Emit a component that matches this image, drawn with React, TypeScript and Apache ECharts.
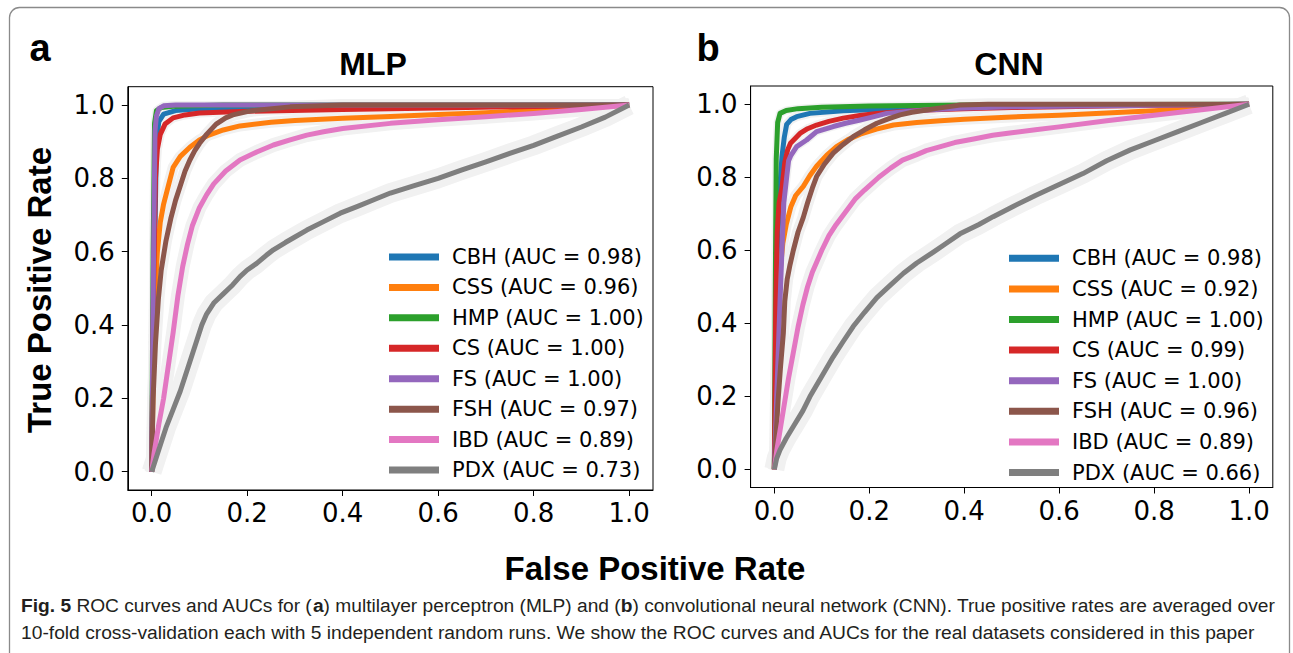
import React, { useEffect, useRef } from 'react';
import * as echarts from 'echarts';

// ---------- data ----------
const curveNames = ['CBH', 'CSS', 'HMP', 'CS', 'FS', 'FSH', 'IBD', 'PDX'];
const mlpAUC = ['0.98', '0.96', '1.00', '1.00', '1.00', '0.97', '0.89', '0.73'];
const cnnAUC = ['0.98', '0.92', '1.00', '0.99', '1.00', '0.96', '0.89', '0.66'];
const tickValues = [0, 0.2, 0.4, 0.6, 0.8, 1.0];

// MLP (panel a): [FPR, TPR]
const mlpCBH = [[0, 0], [0.005, 0.5], [0.01, 0.9], [0.015, 0.955], [0.025, 0.975], [0.05, 0.985], [0.1, 0.99], [0.3, 0.995], [0.6, 0.998], [1, 1]];
const mlpCSS = [[0, 0], [0.004, 0.3], [0.008, 0.5], [0.012, 0.6], [0.018, 0.68], [0.025, 0.73], [0.035, 0.78], [0.045, 0.83], [0.06, 0.86], [0.08, 0.885], [0.1, 0.905], [0.12, 0.918], [0.15, 0.932], [0.185, 0.943], [0.25, 0.953], [0.3, 0.958], [0.4, 0.964], [0.5, 0.969], [0.6, 0.974], [0.7, 0.979], [0.8, 0.985], [0.9, 0.992], [1, 1]];
const mlpHMP = [[0, 0], [0.003, 0.6], [0.006, 0.95], [0.01, 0.985], [0.02, 0.993], [0.05, 0.997], [0.15, 1], [1, 1]];
const mlpCS = [[0, 0], [0.004, 0.5], [0.008, 0.8], [0.012, 0.88], [0.018, 0.92], [0.028, 0.948], [0.045, 0.965], [0.07, 0.973], [0.1, 0.978], [0.2, 0.983], [0.4, 0.988], [0.6, 0.992], [0.8, 0.996], [1, 1]];
const mlpFS = [[0, 0], [0.004, 0.6], [0.007, 0.93], [0.01, 0.97], [0.015, 0.99], [0.025, 0.998], [0.05, 1], [1, 1]];
const mlpFSH = [[0, 0], [0.003, 0.2], [0.008, 0.35], [0.014, 0.47], [0.02, 0.55], [0.03, 0.63], [0.04, 0.69], [0.05, 0.74], [0.06, 0.78], [0.07, 0.82], [0.08, 0.85], [0.09, 0.875], [0.1, 0.895], [0.115, 0.92], [0.135, 0.948], [0.155, 0.965], [0.17, 0.973], [0.2, 0.982], [0.22, 0.986], [0.29, 0.995], [0.4, 1], [1, 1]];
const mlpIBD = [[0, 0], [0.005, 0.05], [0.015, 0.13], [0.025, 0.2], [0.035, 0.29], [0.045, 0.38], [0.055, 0.48], [0.065, 0.56], [0.075, 0.62], [0.085, 0.67], [0.1, 0.72], [0.115, 0.755], [0.13, 0.785], [0.155, 0.82], [0.185, 0.85], [0.22, 0.872], [0.255, 0.891], [0.29, 0.905], [0.325, 0.918], [0.36, 0.927], [0.4, 0.936], [0.5, 0.95], [0.6, 0.96], [0.7, 0.968], [0.8, 0.977], [0.9, 0.988], [1, 1]];
const mlpPDX = [[0, 0], [0.01, 0.04], [0.02, 0.08], [0.03, 0.12], [0.045, 0.17], [0.06, 0.22], [0.08, 0.3], [0.095, 0.36], [0.105, 0.4], [0.115, 0.43], [0.13, 0.46], [0.15, 0.485], [0.17, 0.51], [0.185, 0.532], [0.2, 0.55], [0.22, 0.568], [0.24, 0.59], [0.255, 0.605], [0.28, 0.625], [0.3, 0.64], [0.325, 0.659], [0.36, 0.682], [0.395, 0.705], [0.43, 0.723], [0.464, 0.741], [0.5, 0.76], [0.55, 0.78], [0.6, 0.8], [0.65, 0.823], [0.7, 0.845], [0.75, 0.868], [0.8, 0.89], [0.85, 0.915], [0.9, 0.94], [0.95, 0.967], [1, 1]];

// CNN (panel b)
const cnnCBH = [[0, 0], [0.004, 0.4], [0.008, 0.65], [0.012, 0.78], [0.016, 0.856], [0.021, 0.91], [0.026, 0.945], [0.035, 0.958], [0.047, 0.966], [0.075, 0.975], [0.145, 0.982], [0.3, 0.99], [0.5, 0.995], [1, 1]];
const cnnCSS = [[0, 0], [0.003, 0.25], [0.007, 0.42], [0.012, 0.54], [0.018, 0.62], [0.025, 0.67], [0.035, 0.72], [0.045, 0.75], [0.061, 0.775], [0.075, 0.805], [0.089, 0.83], [0.11, 0.86], [0.131, 0.884], [0.155, 0.903], [0.181, 0.918], [0.215, 0.932], [0.251, 0.943], [0.3, 0.95], [0.35, 0.955], [0.4, 0.959], [0.5, 0.965], [0.6, 0.97], [0.7, 0.976], [0.8, 0.982], [0.9, 0.99], [1, 1]];
const cnnHMP = [[0, 0], [0.002, 0.5], [0.004, 0.85], [0.007, 0.95], [0.012, 0.975], [0.025, 0.983], [0.05, 0.988], [0.1, 0.992], [0.2, 0.995], [0.4, 0.998], [1, 1]];
const cnnCS = [[0, 0], [0.003, 0.45], [0.006, 0.65], [0.01, 0.73], [0.016, 0.77], [0.022, 0.84], [0.028, 0.875], [0.034, 0.893], [0.054, 0.92], [0.07, 0.933], [0.089, 0.943], [0.115, 0.953], [0.145, 0.962], [0.18, 0.969], [0.216, 0.975], [0.27, 0.98], [0.321, 0.984], [0.4, 0.988], [0.5, 0.991], [0.7, 0.995], [1, 1]];
const cnnFS = [[0, 0], [0.005, 0.2], [0.009, 0.35], [0.012, 0.46], [0.016, 0.6], [0.02, 0.73], [0.026, 0.8], [0.03, 0.845], [0.035, 0.86], [0.047, 0.884], [0.068, 0.902], [0.089, 0.925], [0.124, 0.939], [0.15, 0.948], [0.181, 0.957], [0.21, 0.966], [0.237, 0.975], [0.28, 0.98], [0.321, 0.984], [0.391, 0.989], [0.5, 0.993], [0.7, 0.996], [1, 1]];
const cnnFSH = [[0, 0], [0.004, 0.1], [0.008, 0.19], [0.013, 0.28], [0.019, 0.373], [0.022, 0.46], [0.027, 0.52], [0.033, 0.56], [0.04, 0.6], [0.05, 0.65], [0.061, 0.69], [0.07, 0.73], [0.08, 0.77], [0.089, 0.802], [0.105, 0.835], [0.124, 0.866], [0.145, 0.89], [0.166, 0.911], [0.19, 0.93], [0.216, 0.948], [0.24, 0.96], [0.265, 0.971], [0.29, 0.978], [0.321, 0.984], [0.35, 0.99], [0.391, 0.998], [0.45, 1], [1, 1]];
const cnnIBD = [[0, 0], [0.005, 0.05], [0.01, 0.09], [0.02, 0.17], [0.03, 0.25], [0.04, 0.32], [0.05, 0.39], [0.06, 0.45], [0.07, 0.5], [0.08, 0.54], [0.09, 0.57], [0.1, 0.6], [0.115, 0.64], [0.13, 0.67], [0.15, 0.705], [0.17, 0.74], [0.19, 0.765], [0.22, 0.8], [0.245, 0.825], [0.27, 0.847], [0.3, 0.862], [0.32, 0.873], [0.35, 0.884], [0.38, 0.895], [0.42, 0.905], [0.46, 0.915], [0.5, 0.922], [0.55, 0.93], [0.6, 0.938], [0.7, 0.955], [0.8, 0.97], [0.9, 0.985], [1, 1]];
const cnnPDX = [[0, 0], [0.005, 0.03], [0.012, 0.053], [0.025, 0.085], [0.04, 0.117], [0.06, 0.16], [0.075, 0.199], [0.1, 0.255], [0.124, 0.308], [0.145, 0.35], [0.166, 0.391], [0.19, 0.43], [0.216, 0.47], [0.245, 0.505], [0.272, 0.537], [0.3, 0.565], [0.335, 0.595], [0.36, 0.617], [0.391, 0.645], [0.43, 0.67], [0.461, 0.692], [0.503, 0.72], [0.55, 0.75], [0.6, 0.78], [0.65, 0.81], [0.7, 0.845], [0.75, 0.875], [0.8, 0.9], [0.85, 0.925], [0.9, 0.95], [0.95, 0.975], [1, 1]];

const mlpCurves = [mlpCBH, mlpCSS, mlpHMP, mlpCS, mlpFS, mlpFSH, mlpIBD, mlpPDX];
const cnnCurves = [cnnCBH, cnnCSS, cnnHMP, cnnCS, cnnFS, cnnFSH, cnnIBD, cnnPDX];

const captionLine1 = '{b|Fig. 5} ROC curves and AUCs for ({b|a}) multilayer perceptron (MLP) and ({b|b}) convolutional neural network (CNN). True positive rates are averaged over';
const captionLine1Parts: [string, boolean][] = [
  ['Fig. 5', true], [' ROC curves and AUCs for (', false], ['a', true],
  [') multilayer perceptron (MLP) and (', false], ['b', true],
  [') convolutional neural network (CNN). True positive rates are averaged over', false],
];
const captionLine2 = '10-fold cross-validation each with 5 independent random runs. We show the ROC curves and AUCs for the real datasets considered in this paper';

// ---------- styles ----------
const COLORS = ['#1f77b4', '#ff7f0e', '#2ca02c', '#d62728', '#9467bd', '#8c564b', '#e377c2', '#7f7f7f'];
const BAND_WIDTHS = [9, 11, 8, 9, 8, 12, 14, 20];
const LEGEND_ICON = 'path://M0,0H50V7H0Z M57.99,0H58V0.01H57.99Z';
const TICK_FONT = 'DejaVu Sans';
const SANS = 'Liberation Sans';

function measure(parts: [string, boolean][], size: number) {
  const ctx = document.createElement('canvas').getContext('2d')!;
  let w = 0;
  for (const [t, bold] of parts) {
    ctx.font = `${bold ? 'bold ' : ''}${size}px "${SANS}"`;
    w += ctx.measureText(t).width;
  }
  return w;
}

export default function App() {
  const ref = useRef<HTMLDivElement>(null);
  useEffect(() => {
    document.body.style.margin = '0';
    const chart = echarts.init(ref.current!, null, { renderer: 'svg' });

    const grids = [
      { left: 127.8, top: 86.7, width: 525.2, height: 403.3 },
      { left: 750.6, top: 86, width: 522.2, height: 401.5 },
    ];
    const axisCommon = (gridIndex: number, margin: number) => ({
      type: 'value',
      gridIndex,
      min: -0.05,
      max: 1.05,
      axisLine: { show: true, onZero: false, lineStyle: { color: '#000', width: 1 } },
      axisTick: { show: true, length: 6, customValues: tickValues, lineStyle: { color: '#000', width: 1 } },
      axisLabel: {
        customValues: tickValues,
        formatter: (v: number) => v.toFixed(1),
        fontFamily: TICK_FONT,
        fontSize: 26,
        color: '#000',
        margin,
      },
      splitLine: { show: false },
    });

    const series: any[] = [];
    const panels = [
      { curves: mlpCurves, auc: mlpAUC },
      { curves: cnnCurves, auc: cnnAUC },
    ];
    panels.forEach((p, g) => {
      p.curves.forEach((d, i) => {
        series.push({
          type: 'line', xAxisIndex: g, yAxisIndex: g, data: d, showSymbol: false, silent: true,
          z: 1, color: '#f1f1f1',
          lineStyle: { color: '#f1f1f1', width: BAND_WIDTHS[i], join: 'round' },
        });
      });
    });
    const legendNames: string[][] = [[], []];
    panels.forEach((p, g) => {
      p.curves.forEach((d, i) => {
        const name = `${curveNames[i]} (AUC = ${p.auc[i]})`;
        legendNames[g].push(name);
        series.push({
          type: 'line', name, xAxisIndex: g, yAxisIndex: g, data: d, showSymbol: false,
          z: 2, color: COLORS[i],
          lineStyle: { color: COLORS[i], width: 5, join: 'round' },
        });
      });
    });

    const legendCommon = {
      orient: 'vertical', padding: 0, selectedMode: false,
      itemWidth: 58, itemHeight: 7, icon: LEGEND_ICON,
      itemStyle: { borderWidth: 0 },
      textStyle: { fontFamily: TICK_FONT, fontSize: 21, color: '#000', lineHeight: 24 },
    };

    const capSize = 19;
    const w1 = measure(captionLine1Parts, capSize);
    const w2 = measure([[captionLine2, false]], capSize);
    const s1 = 1255 / w1;
    const s2 = 1235 / w2;

    const option: any = {
      animation: false,
      backgroundColor: '#fff',
      grid: grids.map((g) => ({ ...g, show: true, borderColor: '#000', borderWidth: 1, backgroundColor: 'transparent' })),
      xAxis: [axisCommon(0, 10), axisCommon(1, 10)],
      yAxis: [axisCommon(0, 13), axisCommon(1, 13)],
      legend: [
        { ...legendCommon, left: 389, top: 245, itemGap: 6.43, data: legendNames[0] },
        { ...legendCommon, left: 1009, top: 246.3, itemGap: 6.6, data: legendNames[1] },
      ],
      series,
      graphic: [
        {
          type: 'rect', silent: true,
          shape: { x: 9.5, y: 7.5, width: 1280, height: 720, r: 10 },
          style: { fill: 'none', stroke: '#8a8a8a', lineWidth: 1.3 },
        },
        { type: 'text', x: 40, y: 48, style: { text: 'a', fontFamily: SANS, fontWeight: 'bold', fontSize: 38, fill: '#000', align: 'center', verticalAlign: 'middle' } },
        { type: 'text', x: 708, y: 48, style: { text: 'b', fontFamily: SANS, fontWeight: 'bold', fontSize: 38, fill: '#000', align: 'center', verticalAlign: 'middle' } },
        { type: 'text', x: 373, y: 64, style: { text: 'MLP', fontFamily: SANS, fontWeight: 'bold', fontSize: 32, fill: '#000', align: 'center', verticalAlign: 'middle' } },
        { type: 'text', x: 1009, y: 64, style: { text: 'CNN', fontFamily: SANS, fontWeight: 'bold', fontSize: 32, fill: '#000', align: 'center', verticalAlign: 'middle' } },
        { type: 'text', x: 39, y: 290, rotation: Math.PI / 2, style: { text: 'True Positive Rate', fontFamily: SANS, fontWeight: 'bold', fontSize: 33, fill: '#000', align: 'center', verticalAlign: 'middle' } },
        { type: 'text', x: 655, y: 568, style: { text: 'False Positive Rate', fontFamily: SANS, fontWeight: 'bold', fontSize: 33, fill: '#000', align: 'center', verticalAlign: 'middle' } },
        {
          type: 'text', x: 21, y: 606, scaleX: s1,
          style: {
            text: captionLine1, fontFamily: SANS, fontSize: capSize, fill: '#231f20', align: 'left', verticalAlign: 'middle',
            rich: { b: { fontFamily: SANS, fontSize: capSize, fontWeight: 'bold', fill: '#231f20' } },
          },
        },
        {
          type: 'text', x: 21, y: 633, scaleX: s2,
          style: { text: captionLine2, fontFamily: SANS, fontSize: capSize, fill: '#231f20', align: 'left', verticalAlign: 'middle' },
        },
      ],
    };
    chart.setOption(option);
    return () => chart.dispose();
  }, []);
  return <div ref={ref} style={{ width: 1293, height: 653 }} />;
}
